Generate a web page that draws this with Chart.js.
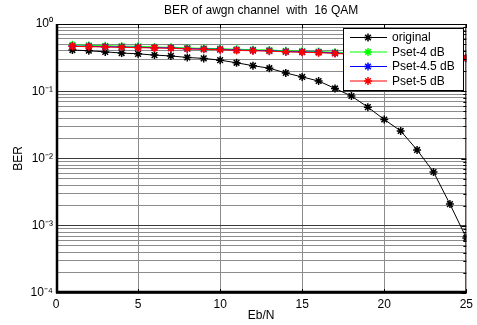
<!DOCTYPE html>
<html lang="en">
<head>
    <meta charset="UTF-8">
    <title>BER of awgn channel with 16 QAM</title>
    <style>
        html, body { margin: 0; padding: 0; background: #fff; }
        #wrap { width: 477px; height: 325px; }
    </style>
</head>
<body>
    <div id="wrap">
        <canvas id="berChart" width="477" height="325"></canvas>
    </div>
    <script src="https://cdn.jsdelivr.net/npm/chart.js"></script>
    <script>
        // Eb/N values (dB)
        const ebn = [1, 2, 3, 4, 5, 6, 7, 8, 9, 10, 11, 12, 13, 14, 15, 16, 17, 18, 19, 20, 21, 22, 23, 24, 25];

        // BER
        const berOriginal = [0.41, 0.40, 0.385, 0.37, 0.36, 0.345, 0.335, 0.318, 0.308, 0.29,
                             0.265, 0.24, 0.22, 0.187, 0.163, 0.142, 0.11, 0.085, 0.058, 0.038,
                             0.0257, 0.0134, 0.0063, 0.0021, 0.00066];
        const berPset4  = [0.49, 0.48, 0.475, 0.47, 0.465, 0.455, 0.45, 0.44, 0.435, 0.43,
                           0.42, 0.415, 0.41, 0.40, 0.395, 0.39, 0.38, 0.37, 0.36, 0.355,
                           0.345, 0.34, 0.33, 0.325, 0.315];
        const berPset45 = [0.47, 0.465, 0.46, 0.455, 0.45, 0.445, 0.44, 0.43, 0.425, 0.42,
                           0.41, 0.405, 0.40, 0.39, 0.385, 0.38, 0.37, 0.36, 0.35, 0.345,
                           0.335, 0.33, 0.325, 0.32, 0.31];
        const berPset5  = [0.465, 0.46, 0.455, 0.45, 0.445, 0.44, 0.435, 0.425, 0.42, 0.415,
                           0.405, 0.40, 0.395, 0.385, 0.38, 0.375, 0.365, 0.355, 0.345, 0.34,
                           0.33, 0.325, 0.32, 0.315, 0.31];

        const seriesNames = ['original', 'Pset-4 dB', 'Pset-4.5 dB', 'Pset-5 dB'];
        const seriesColors = ['#000000', '#00ff00', '#0000ff', '#ff0000'];

        const xTicks = [0, 5, 10, 15, 20, 25];
        const yDecades = [1e-4, 1e-3, 1e-2, 1e-1, 1];
        const yDecadeLabels = ['10\u207B\u2074', '10\u207B\u00B3', '10\u207B\u00B2', '10\u207B\u00B9', '10\u2070'];

        // all log grid positions 1..9 x 10^k
        const yGrid = [];
        for (let k = -4; k < 0; k++) {
            for (let m = 1; m < 10; m++) yGrid.push(Number((m * Math.pow(10, k)).toPrecision(3)));
        }
        yGrid.push(1);

        const FONT = 'Liberation Sans, Arial, sans-serif';

        function isDecade(v) {
            return yDecades.some(d => Math.abs(v - d) / d < 1e-6);
        }

        function makeSet(i, values, order) {
            return {
                label: seriesNames[i],
                data: ebn.map((x, j) => ({x: x, y: values[j]})),
                borderColor: seriesColors[i],
                backgroundColor: seriesColors[i],
                borderWidth: 1,
                pointStyle: 'star',
                pointRadius: 4,
                pointBorderWidth: 1.5,
                pointBorderColor: seriesColors[i],
                tension: 0,
                order: order
            };
        }

        // axes box, inward ticks, title, legend inside plot
        const matlabBits = {
            id: 'matlabBits',
            afterDraw(chart) {
                const c = chart.ctx;
                const a = chart.chartArea;
                const sx = chart.scales.x, sy = chart.scales.y;
                c.save();
                // frame
                c.strokeStyle = '#000';
                c.lineWidth = 1;
                c.strokeRect(a.left + 0.5, a.top + 0.5, a.right - a.left - 1, a.bottom - a.top - 1);

                // inward ticks on right / top / bottom
                c.beginPath();
                yGrid.forEach(v => {
                    const py = Math.round(sy.getPixelForValue(v)) + 0.5;
                    const len = isDecade(v) ? 5 : 3;
                    c.moveTo(a.right, py);
                    c.lineTo(a.right - len, py);
                });
                xTicks.forEach(v => {
                    const px = Math.round(sx.getPixelForValue(v)) + 0.5;
                    c.moveTo(px, a.top);
                    c.lineTo(px, a.top + 4);
                    c.moveTo(px, a.bottom);
                    c.lineTo(px, a.bottom - 4);
                });
                c.stroke();

                c.lineWidth = 2.5;
                c.beginPath();
                c.moveTo(a.left + 1, a.top);
                c.lineTo(a.left + 1, a.bottom - 1);
                c.lineTo(a.right, a.bottom - 1);
                c.stroke();

                // title
                c.fillStyle = '#000';
                c.font = '12px ' + FONT;
                c.textAlign = 'center';
                c.textBaseline = 'middle';
                c.fillText('BER of awgn channel  with  16 QAM', (a.left + a.right) / 2, 11);

                // legend
                const bx = 343, by = 28, bw = 120, bh = 62;
                c.fillStyle = '#fff';
                c.fillRect(bx, by, bw, bh);
                c.lineWidth = 1;
                c.strokeStyle = '#000';
                c.strokeRect(bx + 0.5, by + 0.5, bw, bh);
                c.font = '12px ' + FONT;
                c.textAlign = 'left';
                for (let i = 0; i < seriesNames.length; i++) {
                    const yy = 37.5 + i * 14.5;
                    c.strokeStyle = seriesColors[i];
                    c.lineWidth = 1;
                    c.beginPath();
                    c.moveTo(350, yy);
                    c.lineTo(387, yy);
                    c.stroke();
                    c.lineWidth = 1.5;
                    Chart.helpers.drawPoint(c, {pointStyle: 'star', radius: 4, borderWidth: 1.5}, 368, yy);
                    c.fillStyle = '#000';
                    c.fillText(seriesNames[i], 392, yy + 0.5);
                }
                c.restore();
            }
        };

        const ctx = document.getElementById('berChart');

        new Chart(ctx, {
            type: 'line',
            data: {
                datasets: [
                    makeSet(0, berOriginal, 3),
                    makeSet(1, berPset4, 2),
                    makeSet(2, berPset45, 1),
                    makeSet(3, berPset5, 0)
                ]
            },
            options: {
                responsive: false,
                animation: false,
                layout: {padding: {left: 0, right: 8, top: 24, bottom: 0}},
                plugins: {
                    legend: {display: false},
                    title: {display: false},
                    tooltip: {enabled: false}
                },
                scales: {
                    x: {
                        type: 'linear',
                        min: 0,
                        max: 25,
                        afterBuildTicks: (axis) => { axis.ticks = xTicks.map(v => ({value: v})); },
                        afterFit: (axis) => { axis.height = 32; },
                        ticks: {
                            color: '#000',
                            font: {family: FONT, size: 12},
                            padding: 4,
                            maxRotation: 0
                        },
                        grid: {
                            color: (c) => (c.tick && (c.tick.value === 0 || c.tick.value === 25)) ? 'rgba(0,0,0,0)' : '#8c8c8c',
                            lineWidth: 1,
                            drawTicks: false
                        },
                        border: {display: false},
                        title: {
                            display: true,
                            text: 'Eb/N',
                            color: '#000',
                            font: {family: FONT, size: 12},
                            padding: {top: 0, bottom: 2}
                        }
                    },
                    y: {
                        type: 'logarithmic',
                        min: 1e-4,
                        max: 1,
                        afterBuildTicks: (axis) => { axis.ticks = yGrid.map(v => ({value: v})); },
                        afterFit: (axis) => { axis.width = 56; },
                        ticks: {
                            autoSkip: false,
                            color: '#000',
                            font: {family: FONT, size: 12},
                            padding: 3,
                            callback: (v) => {
                                const i = yDecades.findIndex(d => Math.abs(v - d) / d < 1e-6);
                                return i >= 0 ? yDecadeLabels[i] : '';
                            }
                        },
                        grid: {
                            color: (c) => {
                                if (!c.tick) return '#8c8c8c';
                                return isDecade(c.tick.value) ? '#3a3a3a' : '#8c8c8c';
                            },
                            lineWidth: 1,
                            drawTicks: false
                        },
                        border: {display: false},
                        title: {
                            display: true,
                            text: 'BER',
                            color: '#000',
                            font: {family: FONT, size: 12},
                            padding: {top: 11, bottom: 0}
                        }
                    }
                }
            },
            plugins: [matlabBits]
        });
    </script>
</body>
</html>
